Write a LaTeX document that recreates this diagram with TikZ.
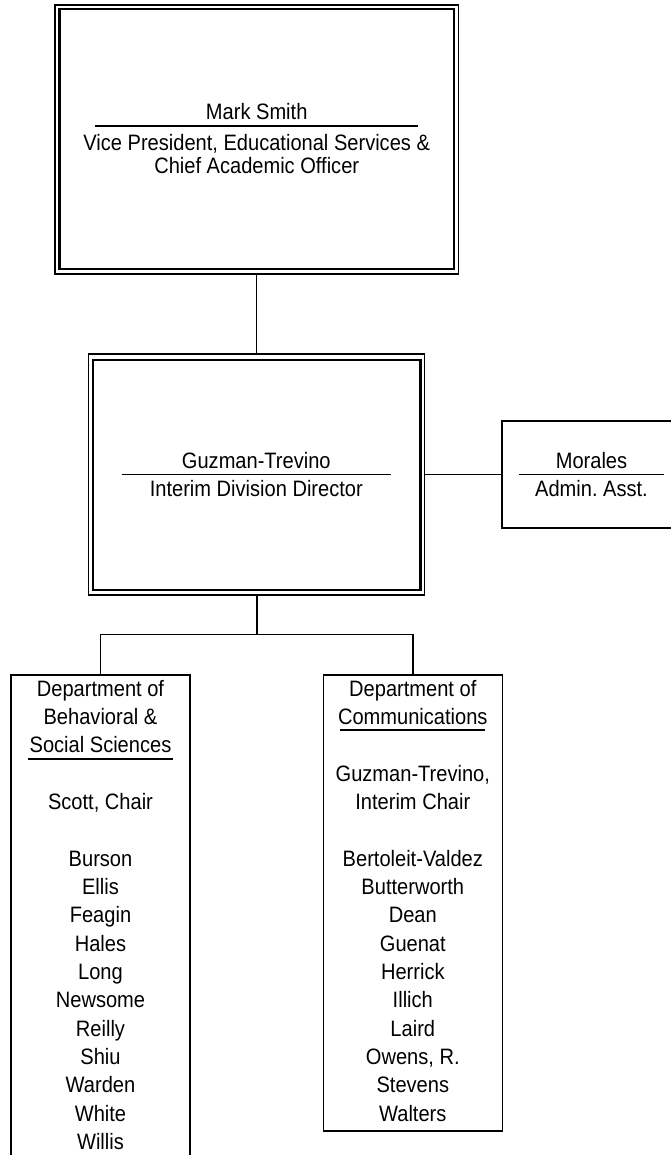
\documentclass[tikz,border=0pt]{standalone}
\usepackage{fontspec}
\setmainfont{Liberation Sans}[FakeStretch=0.9]
\frenchspacing
\begin{document}
\begin{tikzpicture}[x=1pt,y=-1pt,
  outerframe/.style={draw, line width=1.3pt, inner sep=0pt, rectangle},
  innerframe/.style={draw, line width=2.4pt, inner sep=0pt, rectangle},
  plainbox/.style={draw, line width=1.6pt, inner sep=0pt, rectangle},
  txt/.style={font=\fontsize{22.3}{28.33}\selectfont, inner sep=0pt, anchor=base},
  rulestyle/.style={line width=1.8pt},
  link/.style={line width=1.6pt}]
\clip (0,0) rectangle (671,1155);
\fill[white] (0,0) rectangle (671,1155);

% top box
\node[outerframe, minimum width=403.3pt, minimum height=269pt] (top) at (256.65,139.5) {};
\node[innerframe, minimum width=394.7pt, minimum height=260pt] (topin) at (256.65,139.3) {};
\node[txt] (ms) at (256.7,119.5) {Mark Smith};
\draw[rulestyle] (95,126) -- (418.3,126);
\node[txt] (vp) at (256.7,150.7) {Vice President, Educational Services \&};
\node[txt] (cao) at (256.7,174) {Chief Academic Officer};

% division director box
\node[outerframe, minimum width=336pt, minimum height=241pt] (guz) at (256.3,474.5) {};
\node[innerframe, minimum width=327.6pt, minimum height=230pt] (guzin) at (256.5,475) {};
\node[txt] (gt) at (256.3,468.3) {Guzman-Trevino};
\draw[rulestyle] (121.5,474.5) -- (391,474.5);
\node[txt] (idd) at (256.3,496) {Interim Division Director};

% Morales box
\node[plainbox, minimum width=179pt, minimum height=106.7pt] (mor) at (591.5,474.5) {};
\node[txt] (mn) at (591.5,468.3) {Morales};
\draw[rulestyle] (519,474.5) -- (664,474.5);
\node[txt] (ma) at (591.5,496.7) {Admin. Asst.};

% department boxes
\node[plainbox, minimum width=179pt, minimum height=495pt] (dl) at (100.5,922.5) {};
\node[plainbox, minimum width=179pt, minimum height=456pt] (dr) at (412.8,903) {};

\foreach \k/\t in {0/Department of, 1/Behavioral \&, 2/Social Sciences, 4/{Scott, Chair},
  6/Burson, 7/Ellis, 8/Feagin, 9/Hales, 10/Long, 11/Newsome, 12/Reilly, 13/Shiu,
  14/Warden, 15/White, 16/Willis}
  \node[txt] (bl\k) at (100.5,696.3+28.33*\k) {\t};
\draw[rulestyle] (28,759.3) -- (172.7,759.3);

\foreach \k/\t in {0/Department of, 1/Communications, 3/{Guzman-Trevino,}, 4/Interim Chair,
  6/Bertoleit-Valdez, 7/Butterworth, 8/Dean, 9/Guenat, 10/Herrick, 11/Illich,
  12/Laird, 13/{Owens, R.}, 14/Stevens, 15/Walters}
  \node[txt] (br\k) at (412.8,696.3+28.33*\k) {\t};
\draw[rulestyle] (340,730) -- (485,730);

% connectors
\draw[link] (top.south) -- (top.south |- guz.north);
\draw[link] (guz.east) -- (mor.west);
\coordinate (j) at (257,634.5);
\draw[link] (guz.south -| j) -- (j);
\draw[link] (dl.north) |- (j) -| (dr.north);
\end{tikzpicture}
\end{document}
